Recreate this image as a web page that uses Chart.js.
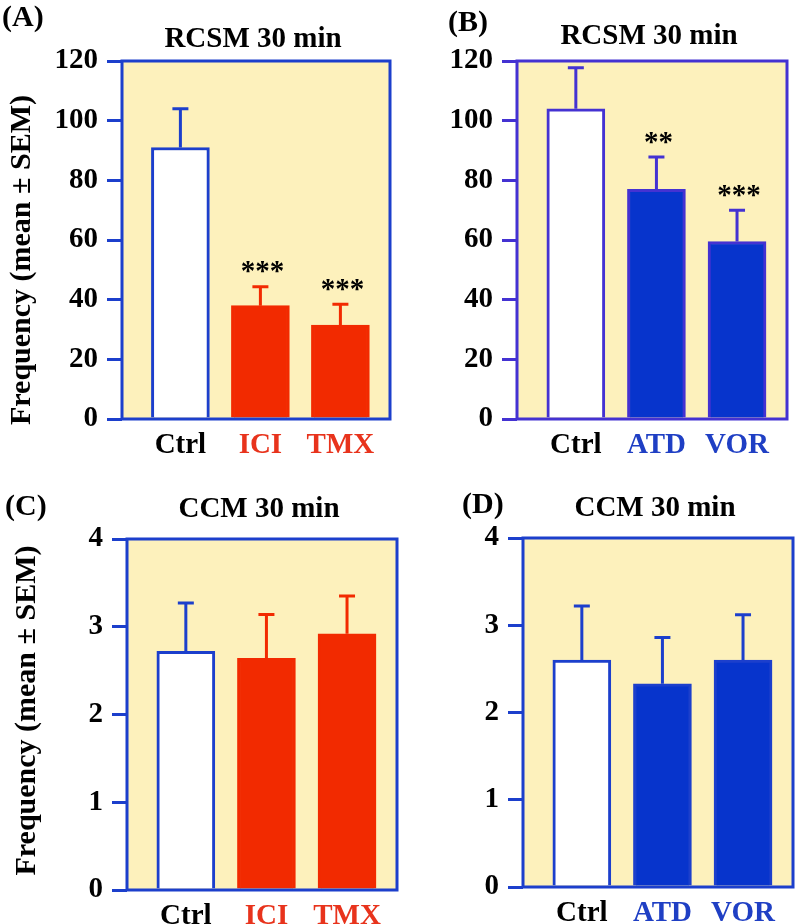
<!DOCTYPE html>
<html>
<head>
<meta charset="utf-8">
<script src="https://cdn.jsdelivr.net/npm/chart.js@4.4.0/dist/chart.umd.min.js"></script>
<style>
  body { margin:0; background:#fff; width:800px; height:924px; position:relative; overflow:hidden; }
  .panel { position:absolute; }
  .tag { position:absolute; font:bold 30px 'Liberation Serif', serif; color:#000; }
</style>
</head>
<body>
<div class="panel" style="left:0;top:0;width:400px;height:460px"><canvas id="chartA"></canvas></div>
<div class="panel" style="left:400px;top:0;width:400px;height:460px"><canvas id="chartB"></canvas></div>
<div class="panel" style="left:0;top:460px;width:400px;height:464px"><canvas id="chartC"></canvas></div>
<div class="panel" style="left:400px;top:460px;width:400px;height:464px"><canvas id="chartD"></canvas></div>
<div class="tag" style="left:2px;top:-1px">(A)</div>
<div class="tag" style="left:448px;top:4px">(B)</div>
<div class="tag" style="left:5px;top:488px">(C)</div>
<div class="tag" style="left:462px;top:486px">(D)</div>
<script>
// groups
const groupsER = ['Ctrl', 'ICI', 'TMX'];
const groupsAro = ['Ctrl', 'ATD', 'VOR'];

// RCSM 30 min
const meanA = [91, 38, 31.5];
const semA = [13, 6.3, 7];
const starsA = ['', '***', '***'];
const meanB = [104, 77, 59.5];
const semB = [13.7, 10.8, 10.5];
const starsB = ['', '**', '***'];
const ticksRCSM = [0, 20, 40, 60, 80, 100, 120];

// CCM 30 min
const meanC = [2.72, 2.64, 2.92];
const semC = [0.55, 0.5, 0.43];
const meanD = [2.6, 2.33, 2.6];
const semD = [0.62, 0.53, 0.52];
const starsNone = ['', '', ''];
const ticksCCM = [0, 1, 2, 3, 4];

const FONT = "'Liberation Serif', 'DejaVu Serif', serif";
const YELLOW = '#fdf1bc';
const BLUE = '#1c3fcc';
const PURPLE = '#4432d2';
const RED = '#f22a00';
const DARKBLUE = '#0734cc';

// background, frame, error bars, stars, titles
const panelPlugin = {
  id: 'panelDeco',
  beforeDatasetsDraw(chart) {
    const a = chart.chartArea, ctx = chart.ctx;
    ctx.save();
    ctx.fillStyle = YELLOW;
    ctx.fillRect(a.left, a.top, a.right - a.left, a.bottom - a.top);
    ctx.restore();
  },
  afterDatasetsDraw(chart) {
    const o = chart.options.plugins.panelDeco;
    const a = chart.chartArea, ctx = chart.ctx;
    const ys = chart.scales.y;
    const meta = chart.getDatasetMeta(0);
    const ds = chart.data.datasets[0];
    ctx.save();
    meta.data.forEach((bar, i) => {
      const v = ds.data[i].y;
      const top = ys.getPixelForValue(v + o.sem[i]);
      ctx.strokeStyle = o.errColors[i];
      ctx.lineWidth = 3;
      ctx.beginPath();
      ctx.moveTo(bar.x, bar.y);
      ctx.lineTo(bar.x, top);
      ctx.moveTo(bar.x - 8, top);
      ctx.lineTo(bar.x + 8, top);
      ctx.stroke();
      if (o.stars[i]) {
        ctx.fillStyle = '#000';
        ctx.font = 'bold 29px ' + FONT;
        ctx.textAlign = 'center';
        ctx.textBaseline = 'middle';
        ctx.fillText(o.stars[i], bar.x + 2, top - 14);
      }
    });
    // frame
    ctx.strokeStyle = o.axisColor;
    ctx.lineWidth = 3;
    ctx.strokeRect(a.left, a.top, a.right - a.left, a.bottom - a.top);
    // title
    ctx.fillStyle = '#000';
    ctx.font = 'bold 29px ' + FONT;
    ctx.textAlign = 'center';
    ctx.textBaseline = 'middle';
    ctx.fillText(o.title, (a.left + a.right) / 2 - 3, a.top + o.titleDy);
    // y title
    if (o.yTitle) {
      ctx.save();
      ctx.translate(o.yTitleX, (a.top + a.bottom) / 2 + o.yTitleDy);
      ctx.rotate(-Math.PI / 2);
      ctx.font = 'bold 30px ' + FONT;
      ctx.fillText(o.yTitle, 0, 0);
      ctx.restore();
    }
    ctx.restore();
  }
};

function makePanel(id, p) {
  const ctx = document.getElementById(id).getContext('2d');
  return new Chart(ctx, {
    type: 'bar',
    data: {
      datasets: [{
        data: p.means.map((v, i) => ({ x: i, y: v })),
        backgroundColor: p.fills,
        borderColor: p.borders,
        borderWidth: 3,
        borderSkipped: 'bottom',
        barThickness: 58
      }]
    },
    options: {
      responsive: true,
      maintainAspectRatio: false,
      animation: false,
      layout: { padding: { top: p.top, right: p.right, left: 0, bottom: 0 } },
      plugins: {
        legend: { display: false },
        tooltip: { enabled: false },
        panelDeco: {
          sem: p.sem, stars: p.stars, errColors: p.errColors, axisColor: p.axis,
          title: p.title, titleDy: p.titleDy,
          yTitle: p.yTitle, yTitleX: p.yTitleX, yTitleDy: p.yTitleDy
        }
      },
      scales: {
        x: {
          type: 'linear', min: -0.73, max: 2.62, offset: false,
          afterBuildTicks: s => { s.ticks = p.labels.map((l, i) => ({ value: i })); },
          afterFit: s => { s.height = p.xHeight; },
          grid: { display: false },
          border: { display: false },
          ticks: {
            callback: v => p.labels[v],
            color: c => p.labelColors[c.index],
            font: { family: FONT, size: 29, weight: 'bold' },
            padding: 1, maxRotation: 0, autoSkip: false
          }
        },
        y: {
          min: 0, max: p.ticks[p.ticks.length - 1],
          afterBuildTicks: s => { s.ticks = p.ticks.map(v => ({ value: v })); },
          afterFit: s => { s.width = p.left; },
          border: { display: false },
          grid: { drawOnChartArea: false, drawTicks: true, tickLength: 15, color: p.axis, lineWidth: 3 },
          ticks: {
            color: '#000', padding: 9,
            font: { family: FONT, size: 29, weight: 'bold' }
          }
        }
      }
    },
    plugins: [panelPlugin]
  });
}

makePanel('chartA', {
  means: meanA, sem: semA, stars: starsA, ticks: ticksRCSM, labels: groupsER,
  fills: ['#ffffff', RED, RED], borders: [BLUE, RED, RED], errColors: [BLUE, RED, RED],
  labelColors: ['#000', '#e8331c', '#e8331c'], axis: BLUE,
  top: 61, right: 10, left: 122, xHeight: 41,
  title: 'RCSM 30 min', titleDy: -21,
  yTitle: 'Frequency (mean \u00b1 SEM)', yTitleX: 22, yTitleDy: 20
});
makePanel('chartB', {
  means: meanB, sem: semB, stars: starsB, ticks: ticksRCSM, labels: groupsAro,
  fills: ['#ffffff', DARKBLUE, DARKBLUE], borders: [PURPLE, PURPLE, PURPLE], errColors: [PURPLE, PURPLE, PURPLE],
  labelColors: ['#000', '#1f3fc4', '#1f3fc4'], axis: PURPLE,
  top: 61, right: 13, left: 117, xHeight: 41,
  title: 'RCSM 30 min', titleDy: -24
});
makePanel('chartC', {
  means: meanC, sem: semC, stars: starsNone, ticks: ticksCCM, labels: groupsER,
  fills: ['#ffffff', RED, RED], borders: [BLUE, RED, RED], errColors: [BLUE, RED, RED],
  labelColors: ['#000', '#e8331c', '#e8331c'], axis: BLUE,
  top: 79, right: 3, left: 127, xHeight: 34,
  title: 'CCM 30 min', titleDy: -29,
  yTitle: 'Frequency (mean \u00b1 SEM)', yTitleX: 27, yTitleDy: -4
});
makePanel('chartD', {
  means: meanD, sem: semD, stars: starsNone, ticks: ticksCCM, labels: groupsAro,
  fills: ['#ffffff', DARKBLUE, DARKBLUE], borders: [BLUE, BLUE, BLUE], errColors: [BLUE, BLUE, BLUE],
  labelColors: ['#000', '#1f3fc4', '#1f3fc4'], axis: BLUE,
  top: 78, right: 7, left: 123, xHeight: 37,
  title: 'CCM 30 min', titleDy: -29
});
</script>
</body>
</html>
